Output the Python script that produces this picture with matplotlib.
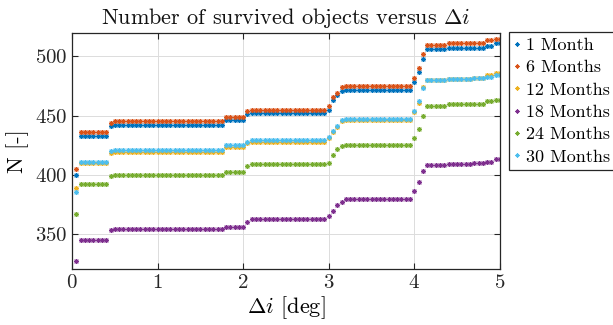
import numpy as np
import matplotlib
matplotlib.use('Agg')
import matplotlib.pyplot as plt

plt.rcParams['font.family'] = 'cmr10'
plt.rcParams['mathtext.fontset'] = 'cm'
plt.rcParams['axes.formatter.use_mathtext'] = True

# delta i grid [deg]
di = np.linspace(0.05, 5.0, 100)

# number of points in each step of the curves (same for all series)
runs = [1, 7, 1, 26, 5, 1, 18, 1, 1, 1, 1, 16, 1, 1, 1, 5, 6, 3, 2, 2]

# level of each step
n_1m = [400, 433, 441, 442, 446, 451, 452, 455, 463, 467, 471, 472,
        478, 487, 498, 506, 507, 507, 509, 511]
n_6m = [405, 436, 444, 445, 449, 454, 455, 458, 466, 469, 474, 475,
        482, 490, 502, 510, 511, 511, 514, 515]
n_12m = [389, 410, 418, 419, 423, 427, 428, 431, 436, 440, 445, 446,
         453, 461, 474, 480, 481, 482, 484, 486]
n_18m = [327, 345, 353, 354, 356, 360, 362, 365, 369, 374, 377, 379,
         386, 394, 403, 408, 409, 410, 411, 413]
n_24m = [367, 392, 399, 400, 402, 407, 409, 410, 417, 422, 424, 425,
         431, 439, 450, 458, 460, 460, 462, 463]
n_30m = [385, 411, 420, 421, 425, 428, 429, 432, 437, 441, 446, 447,
         454, 462, 473, 480, 481, 482, 483, 484]

labels = ['1 Month', '6 Months', '12 Months', '18 Months', '24 Months', '30 Months']
colors = ['#0072BD', '#D95319', '#EDB120', '#7E2F8E', '#77AC30', '#4DBEEE']
series = [n_1m, n_6m, n_12m, n_18m, n_24m, n_30m]

fig = plt.figure(figsize=(6.13, 3.25), dpi=100)
ax = fig.add_axes([0.1175, 0.172, 0.698, 0.727])

for vals, lab, col in zip(series, labels, colors):
    y = np.repeat(vals, runs)
    ax.plot(di, y, linestyle='none', marker=(8, 2, 0), markersize=3.6,
            markeredgewidth=0.7, color=col, label=lab)

ax.set_xlim(0, 5)
ax.set_ylim(320, 520)
ax.set_xticks([0, 1, 2, 3, 4, 5])
ax.set_yticks([350, 400, 450, 500])
ax.grid(True, color='#dcdcdc', linewidth=0.7)
ax.set_axisbelow(True)
ax.tick_params(direction='in', top=True, right=True, labelsize=15,
               length=4, color='#262626', labelcolor='#262626')
for s in ax.spines.values():
    s.set_color('#262626')
    s.set_linewidth(0.9)

ax.set_title(r'Number of survived objects versus $\Delta i$', fontsize=16,
             color='#111111', pad=6)
ax.set_xlabel(r'$\Delta i$ [deg]', fontsize=16, labelpad=2)
ax.set_ylabel('N [-]', fontsize=16, labelpad=4)

leg = fig.legend(loc='upper left', bbox_to_anchor=(509 / 613, 1 - 32 / 325),
                 fontsize=13, handlelength=0.3, handletextpad=0.35,
                 labelspacing=0.37, borderpad=0.3, borderaxespad=0,
                 fancybox=False, framealpha=1, edgecolor='#262626',
                 markerscale=0.8)
leg.get_frame().set_linewidth(0.9)

fig.savefig('out.png', dpi=100)
